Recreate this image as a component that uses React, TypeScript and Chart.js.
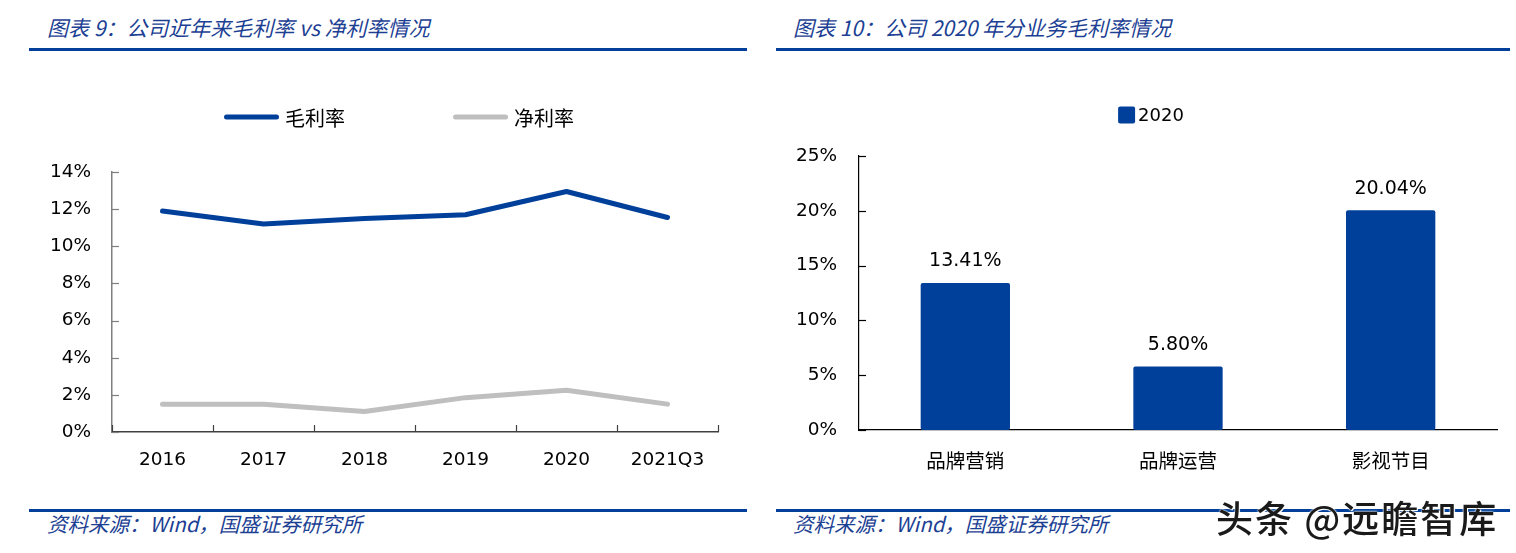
import React, { useEffect, useRef } from "react";
import { Chart, registerables } from "chart.js";

Chart.register(...registerables);

// ---- data ----
const years = ["2016", "2017", "2018", "2019", "2020", "2021Q3"];
const grossMargin = [11.9, 11.2, 11.5, 11.7, 12.95, 11.55];
const netMargin = [1.5, 1.5, 1.1, 1.85, 2.25, 1.5];
const lineSeriesNames = ["毛利率", "净利率"];

const segments = ["品牌营销", "品牌运营", "影视节目"];
const segmentMargin2020 = [13.41, 5.8, 20.04];
const barSeriesName = "2020";

const BLUE = "#00409a";
const GRAY = "#bfbfbf";
const TEXT_BLUE = "#1c3f94";
const NUM_FONT = "'DejaVu Sans', Verdana, sans-serif";
const CJK_FONT = "'Noto Sans CJK SC', 'Noto Sans', sans-serif";

// inward tick marks drawn from the library scales
const innerTicks = {
  id: "innerTicks",
  afterDraw(chart: any, _args: any, opts: any) {
    const { ctx } = chart;
    const x = chart.scales.x;
    const y = chart.scales.y;
    const len = opts.length ?? 7;
    ctx.save();
    ctx.lineWidth = 1.2;
    ctx.strokeStyle = opts.yColor || "#000";
    y.ticks.forEach((_t: any, i: number) => {
      const py = Math.round(y.getPixelForTick(i)) + 0.5;
      ctx.beginPath();
      ctx.moveTo(y.right, py);
      ctx.lineTo(y.right + len, py);
      ctx.stroke();
    });
    if (opts.xTicks) {
      ctx.strokeStyle = opts.xColor || "#000";
      for (let i = 0; i <= x.ticks.length; i++) {
        const px = Math.round(x.getPixelForValue(i - 0.5)) + 0.5;
        ctx.beginPath();
        ctx.moveTo(px, x.top);
        ctx.lineTo(px, x.top - len);
        ctx.stroke();
      }
    }
    ctx.restore();
  },
};

// simple legend drawn on canvas from the datasets
const customLegend = {
  id: "customLegend",
  afterDraw(chart: any, _args: any, opts: any) {
    const { ctx } = chart;
    const items = chart.data.datasets.map((d: any) => ({
      text: d.label,
      color: d.legendColor || d.borderColor || d.backgroundColor,
    }));
    ctx.save();
    ctx.font = opts.font;
    const sw = opts.swatchW;
    const gap = opts.textGap;
    const widths = items.map((it: any) => sw + gap + ctx.measureText(it.text).width);
    const total = widths.reduce((a: number, b: number) => a + b, 0) + opts.itemGap * (items.length - 1);
    let cx = opts.centerX - total / 2;
    const cy = opts.centerY;
    items.forEach((it: any, i: number) => {
      ctx.fillStyle = it.color;
      if (opts.kind === "line") {
        ctx.strokeStyle = it.color;
        ctx.lineWidth = opts.swatchH;
        ctx.lineCap = "round";
        ctx.beginPath();
        ctx.moveTo(cx + opts.swatchH / 2, cy);
        ctx.lineTo(cx + sw - opts.swatchH / 2, cy);
        ctx.stroke();
      } else {
        ctx.beginPath();
        (ctx as any).roundRect(cx, cy - opts.swatchH / 2, sw, opts.swatchH, 2);
        ctx.fill();
      }
      ctx.fillStyle = "#000";
      ctx.textBaseline = "middle";
      ctx.textAlign = "left";
      ctx.fillText(it.text, cx + sw + gap, cy + 1);
      cx += widths[i] + opts.itemGap;
    });
    ctx.restore();
  },
};

// value labels above bars
const barLabels = {
  id: "barLabels",
  afterDatasetsDraw(chart: any) {
    const { ctx } = chart;
    const meta = chart.getDatasetMeta(0);
    const data = chart.data.datasets[0].data;
    ctx.save();
    ctx.font = `19px ${NUM_FONT}`;
    ctx.fillStyle = "#000";
    ctx.textAlign = "center";
    ctx.textBaseline = "bottom";
    meta.data.forEach((el: any, i: number) => {
      ctx.fillText(`${Number(data[i]).toFixed(2)}%`, el.x, el.y - 12);
    });
    ctx.restore();
  },
};

function LineChart() {
  const ref = useRef<HTMLCanvasElement>(null);
  useEffect(() => {
    const chart = new Chart(ref.current!, {
      type: "line",
      data: {
        labels: years,
        datasets: [
          {
            label: lineSeriesNames[0],
            data: grossMargin,
            borderColor: BLUE,
            borderWidth: 5,
            pointRadius: 0,
            tension: 0,
            borderCapStyle: "round",
            borderJoinStyle: "round",
          },
          {
            label: lineSeriesNames[1],
            data: netMargin,
            borderColor: GRAY,
            borderWidth: 5,
            pointRadius: 0,
            tension: 0,
            borderCapStyle: "round",
            borderJoinStyle: "round",
          },
        ],
      },
      options: {
        animation: false,
        responsive: false,
        layout: { padding: { top: 112, right: 42, left: 0, bottom: 0 } },
        plugins: {
          legend: { display: false },
          tooltip: { enabled: false },
          customLegend: {
            kind: "line",
            font: `20px ${CJK_FONT}`,
            swatchW: 55,
            swatchH: 5,
            textGap: 6,
            itemGap: 108,
            centerX: 399,
            centerY: 57,
          },
          innerTicks: { length: 7, yColor: "#7f7f7f", xColor: "#404040", xTicks: true },
        } as any,
        scales: {
          x: {
            type: "category",
            offset: true,
            grid: { display: false, drawTicks: false },
            border: { display: true, color: "#404040", width: 1.5 },
            ticks: { color: "#000", font: { family: NUM_FONT, size: 18.5 }, padding: 17, maxRotation: 0 },
            afterFit: (s: any) => {
              s.height = 68;
            },
          },
          y: {
            min: 0,
            max: 14,
            grid: { display: false, drawTicks: false },
            border: { display: true, color: "#7f7f7f", width: 1.5 },
            ticks: {
              stepSize: 2,
              color: "#000",
              font: { family: NUM_FONT, size: 18.5 },
              padding: 21,
              callback: (v: any) => `${v}%`,
            },
            afterFit: (s: any) => {
              s.width = 112;
            },
          },
        },
      },
      plugins: [innerTicks, customLegend],
    });
    return () => chart.destroy();
  }, []);
  return <canvas ref={ref} width={760} height={440} style={{ position: "absolute", left: 0, top: 60 }} />;
}

function BarChart() {
  const ref = useRef<HTMLCanvasElement>(null);
  useEffect(() => {
    const chart = new Chart(ref.current!, {
      type: "bar",
      data: {
        labels: segments,
        datasets: [
          {
            label: barSeriesName,
            data: segmentMargin2020,
            backgroundColor: BLUE,
            borderRadius: 2,
            borderSkipped: false,
            categoryPercentage: 1,
            barPercentage: 0.42,
          },
        ],
      },
      options: {
        animation: false,
        responsive: false,
        layout: { padding: { top: 96, right: 19, left: 0, bottom: 0 } },
        plugins: {
          legend: { display: false },
          tooltip: { enabled: false },
          customLegend: {
            kind: "box",
            font: `18px ${NUM_FONT}`,
            swatchW: 17,
            swatchH: 17,
            textGap: 3,
            itemGap: 20,
            centerX: 391,
            centerY: 55,
          },
          innerTicks: { length: 7, yColor: "#000", xTicks: false },
        } as any,
        scales: {
          x: {
            type: "category",
            grid: { display: false, drawTicks: false },
            border: { display: true, color: "#000", width: 1.2 },
            ticks: { color: "#000", font: { family: CJK_FONT, size: 19.5 }, padding: 19, maxRotation: 0 },
            afterFit: (s: any) => {
              s.height = 70;
            },
          },
          y: {
            min: 0,
            max: 25,
            grid: { display: false, drawTicks: false },
            border: { display: true, color: "#000", width: 1.2 },
            ticks: {
              stepSize: 5,
              color: "#000",
              font: { family: NUM_FONT, size: 18.5 },
              padding: 22,
              callback: (v: any) => `${v}%`,
            },
            afterFit: (s: any) => {
              s.width = 99;
            },
          },
        },
      },
      plugins: [innerTicks, customLegend, barLabels],
    });
    return () => chart.destroy();
  }, []);
  return <canvas ref={ref} width={756} height={440} style={{ position: "absolute", left: 760, top: 60 }} />;
}

const titleStyle: React.CSSProperties = {
  position: "absolute",
  top: 14,
  fontFamily: CJK_FONT,
  fontStyle: "italic",
  fontSize: 21,
  lineHeight: "26px",
  color: TEXT_BLUE,
  whiteSpace: "nowrap",
};
const footStyle: React.CSSProperties = {
  position: "absolute",
  top: 510,
  fontFamily: CJK_FONT,
  fontStyle: "italic",
  fontSize: 20.5,
  lineHeight: "26px",
  color: TEXT_BLUE,
  whiteSpace: "nowrap",
};
const rule = (left: number, width: number, top: number): React.CSSProperties => ({
  position: "absolute",
  left,
  top,
  width,
  height: 3,
  background: BLUE,
});

export default function App() {
  return (
    <div
      style={{
        position: "absolute",
        left: 0,
        top: 0,
        width: 1516,
        height: 553,
        background: "#fff",
        overflow: "hidden",
      }}
    >
      <div style={{ ...titleStyle, left: 47 }}>图表 9：公司近年来毛利率 vs 净利率情况</div>
      <div style={{ ...titleStyle, left: 793 }}>图表 10：公司 2020 年分业务毛利率情况</div>
      <div style={rule(29, 718, 48)} />
      <div style={rule(776, 734, 48)} />
      <LineChart />
      <BarChart />
      <div style={rule(29, 718, 509)} />
      <div style={rule(776, 734, 509)} />
      <div style={{ ...footStyle, left: 47 }}>资料来源：Wind，国盛证券研究所</div>
      <div style={{ ...footStyle, left: 793 }}>资料来源：Wind，国盛证券研究所</div>
      <div
        style={{
          position: "absolute",
          left: 1216,
          top: 494,
          fontFamily: CJK_FONT,
          fontSize: 37,
          fontWeight: 500,
          lineHeight: "46px",
          color: "#1a1a1a",
          letterSpacing: 2,
          whiteSpace: "nowrap",
          textShadow: "0 0 2px #fff, 0 0 2px #fff, 1px 1px 0 #fff",
        }}
      >
        头条 @远瞻智库
      </div>
    </div>
  );
}
